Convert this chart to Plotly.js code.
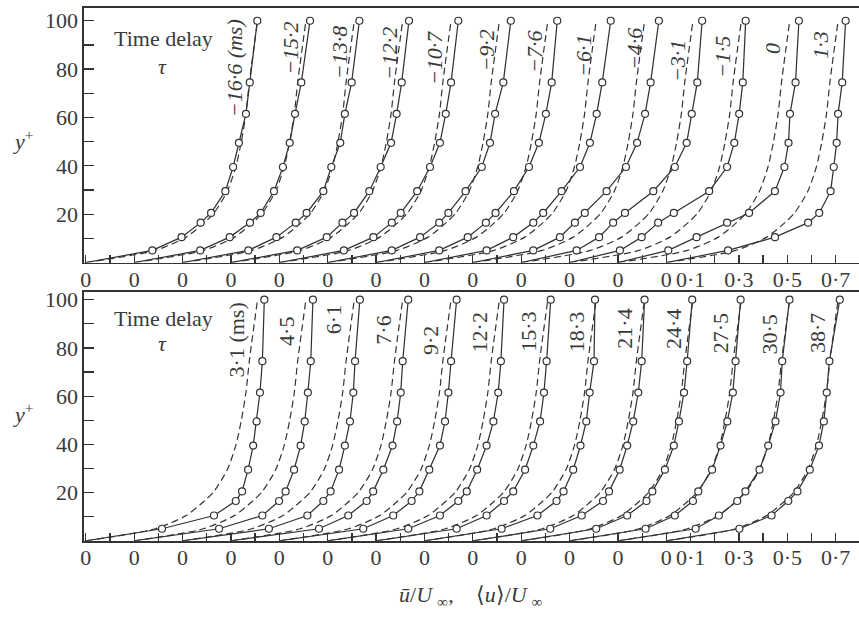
<!DOCTYPE html>
<html>
<head>
<meta charset="utf-8">
<script src="https://cdn.plot.ly/plotly-3.0.1.min.js"></script>
<style>html,body{margin:0;padding:0;background:#fff}</style>
</head>
<body>
<div id="chart" style="width:859px;height:619px"></div>
<script>
// Rake positions (wall units) at which the conditional averages were sampled
const yPlus = [5, 10.5, 16.5, 20.5, 29.5, 39.5, 49.5, 61.5, 74.5, 100];

// Long-time mean profile  u/U∞  (dashed curve, repeated under every profile)
const meanY = [0, 5, 10.5, 16.5, 20.5, 29.5, 39.5, 49.5, 61.5, 74.5, 100];
const meanU = [0, 0.287, 0.415, 0.49, 0.53, 0.585, 0.62, 0.642, 0.662, 0.676, 0.71];

// Time delays (ms) labelling each profile
const delaysTop = ['−16·6 (ms)', '−15·2', '−13·8', '−12·2', '−10·7', '−9·2', '−7·6',
                   '−6·1', '−4·6', '−3·1', '−1·5', '0', '1·3'];
const delaysBottom = ['3·1 (ms)', '4·5', '6·1', '7·6', '9·2', '12·2', '15·3',
                      '18·3', '21·4', '24·4', '27·5', '30·5', '38·7'];

// Conditionally averaged profiles <u>/U∞ at the rake positions, negative delays
const profilesTop = [
  [0.275, 0.396, 0.475, 0.518, 0.577, 0.609, 0.633, 0.662, 0.678, 0.709],
  [0.273, 0.395, 0.479, 0.523, 0.578, 0.615, 0.643, 0.665, 0.691, 0.727],
  [0.272, 0.388, 0.468, 0.513, 0.582, 0.615, 0.652, 0.671, 0.699, 0.731],
  [0.274, 0.396, 0.461, 0.509, 0.572, 0.619, 0.662, 0.685, 0.706, 0.736],
  [0.267, 0.389, 0.465, 0.502, 0.570, 0.623, 0.664, 0.688, 0.710, 0.740],
  [0.265, 0.382, 0.461, 0.499, 0.570, 0.637, 0.671, 0.692, 0.726, 0.757],
  [0.261, 0.379, 0.454, 0.494, 0.570, 0.632, 0.673, 0.702, 0.726, 0.749],
  [0.257, 0.367, 0.450, 0.491, 0.567, 0.643, 0.684, 0.712, 0.735, 0.770],
  [0.250, 0.360, 0.422, 0.463, 0.553, 0.633, 0.679, 0.712, 0.735, 0.769],
  [0.229, 0.322, 0.380, 0.429, 0.546, 0.635, 0.684, 0.705, 0.728, 0.748],
  [0.208, 0.298, 0.366, 0.431, 0.577, 0.651, 0.681, 0.701, 0.716, 0.728],
  [0.208, 0.325, 0.451, 0.542, 0.649, 0.688, 0.705, 0.711, 0.734, 0.748],
  [0.255, 0.449, 0.586, 0.632, 0.679, 0.692, 0.704, 0.710, 0.727, 0.741]
];

// ... and positive delays
const profilesBottom = [
  [0.315, 0.530, 0.620, 0.646, 0.671, 0.692, 0.706, 0.720, 0.730, 0.738],
  [0.351, 0.530, 0.599, 0.626, 0.661, 0.688, 0.705, 0.718, 0.730, 0.739],
  [0.357, 0.516, 0.582, 0.612, 0.647, 0.671, 0.692, 0.706, 0.713, 0.733],
  [0.364, 0.485, 0.561, 0.588, 0.630, 0.668, 0.687, 0.702, 0.710, 0.733],
  [0.347, 0.471, 0.547, 0.579, 0.620, 0.664, 0.685, 0.699, 0.710, 0.733],
  [0.333, 0.464, 0.540, 0.575, 0.618, 0.657, 0.685, 0.705, 0.716, 0.729],
  [0.333, 0.457, 0.529, 0.567, 0.616, 0.650, 0.678, 0.694, 0.705, 0.722],
  [0.319, 0.467, 0.546, 0.575, 0.615, 0.645, 0.669, 0.683, 0.701, 0.705],
  [0.320, 0.450, 0.538, 0.563, 0.607, 0.638, 0.663, 0.684, 0.698, 0.710],
  [0.310, 0.438, 0.518, 0.542, 0.594, 0.631, 0.652, 0.673, 0.686, 0.707],
  [0.314, 0.435, 0.510, 0.532, 0.589, 0.624, 0.652, 0.675, 0.686, 0.707],
  [0.321, 0.417, 0.493, 0.527, 0.585, 0.621, 0.651, 0.672, 0.679, 0.709],
  [0.302, 0.435, 0.504, 0.542, 0.593, 0.631, 0.651, 0.663, 0.674, 0.717]
];

// Abscissa: every profile has its own origin, 0.2 apart; the last one is graduated
const xTickVals = [0, 0.2, 0.4, 0.6, 0.8, 1.0, 1.2, 1.4, 1.6, 1.8, 2.0, 2.2, 2.4, 2.5, 2.7, 2.9, 3.1];
const xTickText = ['0', '0', '0', '0', '0', '0', '0', '0', '0', '0', '0', '0', '0',
                   '0·1', '0·3', '0·5', '0·7'];
const yTickVals = [20, 40, 60, 80, 100];

// ---- presentation ----
const STEP = 0.2;
const INK = '#333333';
const TEXT = '#3a3a3a';
const SERIF = '"Liberation Serif", "Times New Roman", serif';
const FS = 22;

// label placement (offset from each profile origin, and height in y+)
const topLabelDx = [0.613, 0.643, 0.647, 0.653, 0.644, 0.657, 0.657, 0.655, 0.666, 0.644, 0.630, 0.636, 0.639];
const topLabelY  = [80.4, 88.7, 86.6, 86.6, 84.6, 87.5, 87.1, 85.4, 88.3, 83.3, 85.0, 88.7, 90.0];
const botLabelDx = 0.627;
const botLabelY  = [83.3, 87.0, 91.6, 87.4, 83.3, 86.6, 86.6, 86.6, 87.8, 87.8, 86.2, 85.4, 86.2];

const traces = [];

function addPanel(profiles, xa, ya) {
  // mean profile, dashed
  profiles.forEach((p, j) => {
    const x0 = j * STEP;
    traces.push({
      type: 'scatter', mode: 'lines', xaxis: xa, yaxis: ya,
      x: meanU.map(u => x0 + u), y: meanY,
      line: {color: INK, width: 1.2, dash: '7px,4px', shape: 'spline', smoothing: 0.7},
      hoverinfo: 'skip'
    });
  });
  // conditional average, solid from the wall
  profiles.forEach((p, j) => {
    const x0 = j * STEP;
    traces.push({
      type: 'scatter', mode: 'lines', xaxis: xa, yaxis: ya,
      x: [x0].concat(p.map(u => x0 + u)), y: [0].concat(yPlus),
      line: {color: INK, width: 1.25},
      hoverinfo: 'skip'
    });
  });
  // open circles on top
  profiles.forEach((p, j) => {
    const x0 = j * STEP;
    traces.push({
      type: 'scatter', mode: 'markers', xaxis: xa, yaxis: ya,
      x: p.map(u => x0 + u), y: yPlus,
      marker: {symbol: 'circle', size: 7, color: '#ffffff', line: {color: INK, width: 1.2}},
      hoverinfo: 'skip'
    });
  });
}

addPanel(profilesTop, 'x', 'y');
addPanel(profilesBottom, 'x2', 'y2');

const xRange = [-0.0074, 3.1964];

function xAxis(anchor) {
  return {
    anchor: anchor, domain: [0, 1], range: xRange,
    tickmode: 'array', tickvals: xTickVals, ticktext: xTickText,
    ticks: 'inside', ticklen: 8, tickwidth: 1.3, tickcolor: INK,
    tickfont: {family: SERIF, size: FS, color: TEXT},
    ticklabelstandoff: -4,
    showline: true, mirror: true, linecolor: INK, linewidth: 1.8,
    showgrid: false, zeroline: false,
    minor: {tick0: 0, dtick: 0.1, ticks: 'inside', ticklen: 8, tickwidth: 1.3, tickcolor: INK, showgrid: false}
  };
}

function yAxis(anchor, domain, top) {
  return {
    anchor: anchor, domain: domain, range: [0, top],
    tickmode: 'array', tickvals: yTickVals,
    ticks: 'inside', ticklen: 10, tickwidth: 1.3, tickcolor: INK,
    tickfont: {family: SERIF, size: FS, color: TEXT},
    showline: true, mirror: false, linecolor: INK, linewidth: 1.6,
    showgrid: false, zeroline: false,
    minor: {tick0: 0, dtick: 10, ticks: 'inside', ticklen: 10, tickwidth: 1.3, tickcolor: INK, showgrid: false}
  };
}

const annotations = [];

function labelPanel(labels, xref, yref, dx, ys, italic) {
  labels.forEach((t, j) => {
    annotations.push({
      xref: xref, yref: yref,
      x: j * STEP + (Array.isArray(dx) ? dx[j] : dx), y: ys[j],
      text: italic ? '<i>' + t + '</i>' : t,
      textangle: -90, showarrow: false,
      xanchor: 'center', yanchor: 'middle',
      font: {family: SERIF, size: FS, color: TEXT}
    });
  });
  annotations.push({
    xref: xref, yref: yref, x: 0.323, y: yref === 'y' ? 92.6 : 92.4,
    text: 'Time delay', showarrow: false, xanchor: 'center', yanchor: 'middle',
    font: {family: SERIF, size: FS, color: TEXT}
  });
  annotations.push({
    xref: xref, yref: yref, x: 0.316, y: yref === 'y' ? 81 : 82,
    text: '<i>τ</i>', showarrow: false, xanchor: 'center', yanchor: 'middle',
    font: {family: SERIF, size: FS, color: TEXT}
  });
}

labelPanel(delaysTop, 'x', 'y', topLabelDx, topLabelY, true);
labelPanel(delaysBottom, 'x2', 'y2', botLabelDx, botLabelY, false);

// y+ titles and the common abscissa title
[0.7738, 0.333].forEach(py => {
  annotations.push({
    xref: 'paper', yref: 'paper', x: -0.0787, y: py,
    text: '<i>y</i><sup>+</sup>', showarrow: false, xanchor: 'center', yanchor: 'middle',
    font: {family: SERIF, size: FS, color: TEXT}
  });
});
annotations.push({
  xref: 'paper', yref: 'paper', x: 0.4994, y: 0.0372,
  text: '<i>ū</i>/<i>U</i><sub>\u2004∞</sub>,\u00A0\u00A0\u00A0\u00A0⟨<i>u</i>⟩/<i>U</i><sub>\u2004∞</sub>',
  showarrow: false, xanchor: 'center', yanchor: 'middle',
  font: {family: SERIF, size: FS, color: TEXT}
});

const layout = {
  width: 859, height: 619,
  margin: {l: 84, r: 0, t: 0, b: 0},
  paper_bgcolor: '#ffffff', plot_bgcolor: '#ffffff',
  showlegend: false,
  font: {family: SERIF, size: FS, color: TEXT},
  xaxis: xAxis('y'),
  yaxis: yAxis('x', [0.5759, 0.98756], 105.4),
  xaxis2: xAxis('y2'),
  yaxis2: yAxis('x2', [0.12633, 0.52827], 103.2),
  annotations: annotations
};

Plotly.newPlot('chart', traces, layout, {staticPlot: true, displayModeBar: false});
</script>
</body>
</html>
